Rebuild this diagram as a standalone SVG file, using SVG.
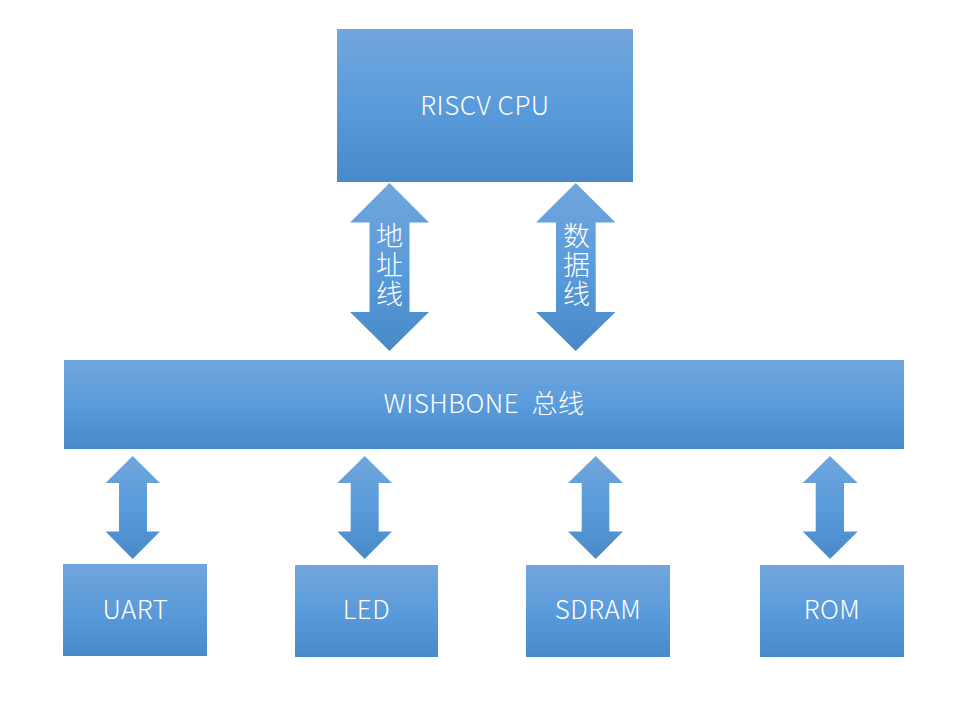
<svg xmlns="http://www.w3.org/2000/svg" width="974" height="706" viewBox="0 0 974 706">
<defs>
<linearGradient id="g" x1="0" y1="0" x2="0" y2="1">
<stop offset="0" stop-color="#71a6dc"/>
<stop offset="0.5" stop-color="#5a9bdb"/>
<stop offset="1" stop-color="#4889c8"/>
</linearGradient>
<style>
.box{fill:url(#g);}
.arr{fill:url(#g);}
text{font-family:"Noto Sans CJK SC","Noto Sans",sans-serif;font-weight:300;fill:#ffffff;font-size:26px;text-anchor:middle;white-space:pre;}
.v{font-size:27px;writing-mode:vertical-rl;letter-spacing:2px;}
</style>
</defs>
<rect width="974" height="706" fill="#ffffff"/>
<g id="connectors">
<polygon class="arr" points="389.5,183 429,222.5 409.5,222.5 409.5,312 429,312 389.5,351 350,312 369.5,312 369.5,222.5 350,222.5"/>
<polygon class="arr" points="575.7,183 615.5,222.5 595.7,222.5 595.7,312 615.5,312 575.7,351 536,312 556,312 556,222.5 536,222.5"/>
<polygon class="arr" points="132.7,456 160,483 147,483 147,531.5 160,531.5 132.7,559 105.5,531.5 119,531.5 119,483 105.5,483"/>
<polygon class="arr" points="364.7,456 392,483 378.7,483 378.7,531.5 392,531.5 364.7,559 337.3,531.5 350.7,531.5 350.7,483 337.3,483"/>
<polygon class="arr" points="595.7,456 623,483 609.3,483 609.3,531.5 623,531.5 595.7,559 568,531.5 581.7,531.5 581.7,483 568,483"/>
<polygon class="arr" points="830,456 857.7,483 844,483 844,531.5 857.7,531.5 830,559 802.7,531.5 815.7,531.5 815.7,483 802.7,483"/>
<text class="v" x="389.5" y="266">地址线</text>
<text class="v" x="576.5" y="266">数据线</text>
</g>
<g id="cpu">
<rect class="box" x="337" y="29" width="296" height="153"/>
<text x="485" y="115" letter-spacing="0.5">RISCV CPU</text>
</g>
<g id="bus">
<rect class="box" x="64" y="360" width="840" height="89"/>
<text x="484" y="413" xml:space="preserve" letter-spacing="0.5">WISHBONE  总线</text>
</g>
<g id="uart">
<rect class="box" x="63" y="564" width="144" height="92"/>
<text x="135.5" y="619" letter-spacing="0.5">UART</text>
</g>
<g id="led">
<rect class="box" x="295" y="565" width="143" height="92"/>
<text x="366.5" y="619" letter-spacing="0.5">LED</text>
</g>
<g id="sdram">
<rect class="box" x="526" y="565" width="144" height="92"/>
<text x="598" y="619" letter-spacing="0.5">SDRAM</text>
</g>
<g id="rom">
<rect class="box" x="760" y="565" width="144" height="92"/>
<text x="832" y="619" letter-spacing="0.5">ROM</text>
</g>
</svg>
